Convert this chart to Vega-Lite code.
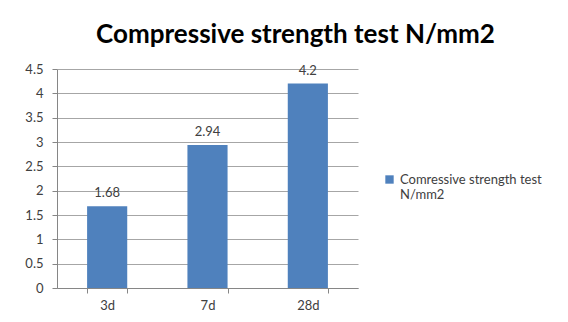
{
  "$schema": "https://vega.github.io/schema/vega-lite/v6.json",
  "width": 301,
  "height": 219,
  "autosize": {"type": "none"},
  "padding": {"left": 57, "top": 69, "right": 210, "bottom": 34},
  "background": "white",
  "config": {
    "font": "Lato",
    "view": {"stroke": null},
    "axis": {"labelFont": "Lato", "labelColor": "#404040", "labelFontSize": 12, "domainColor": "#868686", "tickColor": "#868686", "gridColor": "#A6A6A6"}
  },
  "title": {
    "text": "Compressive strength test N/mm2",
    "font": "Lato",
    "fontSize": 26,
    "fontWeight": "bold",
    "color": "#000000",
    "anchor": "middle",
    "dx": 88,
    "offset": 15
  },
  "data": {
    "values": [
      {"age": "3d", "strength": 1.68, "series": "Comressive strength test N/mm2"},
      {"age": "7d", "strength": 2.94, "series": "Comressive strength test N/mm2"},
      {"age": "28d", "strength": 4.2, "series": "Comressive strength test N/mm2"}
    ]
  },
  "encoding": {
    "x": {
      "field": "age",
      "type": "nominal",
      "sort": null,
      "scale": {"paddingInner": 0.6, "paddingOuter": 0.3},
      "axis": {"title": null, "labelAngle": 0, "tickBand": "extent", "tickSize": 5, "labelPadding": 6, "grid": false, "labelFontSize": 13}
    },
    "y": {
      "field": "strength",
      "type": "quantitative",
      "scale": {"domain": [0, 4.5], "nice": false},
      "axis": {"title": null, "values": [0, 0.5, 1, 1.5, 2, 2.5, 3, 3.5, 4, 4.5], "format": "~g", "tickSize": 5, "labelPadding": 9, "grid": true, "labelFontSize": 13}
    }
  },
  "layer": [
    {
      "mark": {"type": "bar"},
      "encoding": {
        "color": {
          "field": "series",
          "type": "nominal",
          "scale": {"range": ["#4F81BD"]},
          "legend": {
            "title": null,
            "orient": "none",
            "legendX": 326,
            "legendY": 104,
            "symbolType": "square",
            "symbolSize": 70,
            "symbolStrokeWidth": 0,
            "labelFont": "Lato",
            "labelFontSize": 13,
            "labelColor": "#404040",
            "labelLimit": 300,
            "labelExpr": "['Comressive strength test', 'N/mm2']"
          }
        }
      }
    },
    {
      "mark": {"type": "text", "baseline": "bottom", "dy": -6, "fontSize": 13, "color": "#404040", "font": "Lato"},
      "encoding": {"text": {"field": "strength", "type": "quantitative"}}
    }
  ]
}
